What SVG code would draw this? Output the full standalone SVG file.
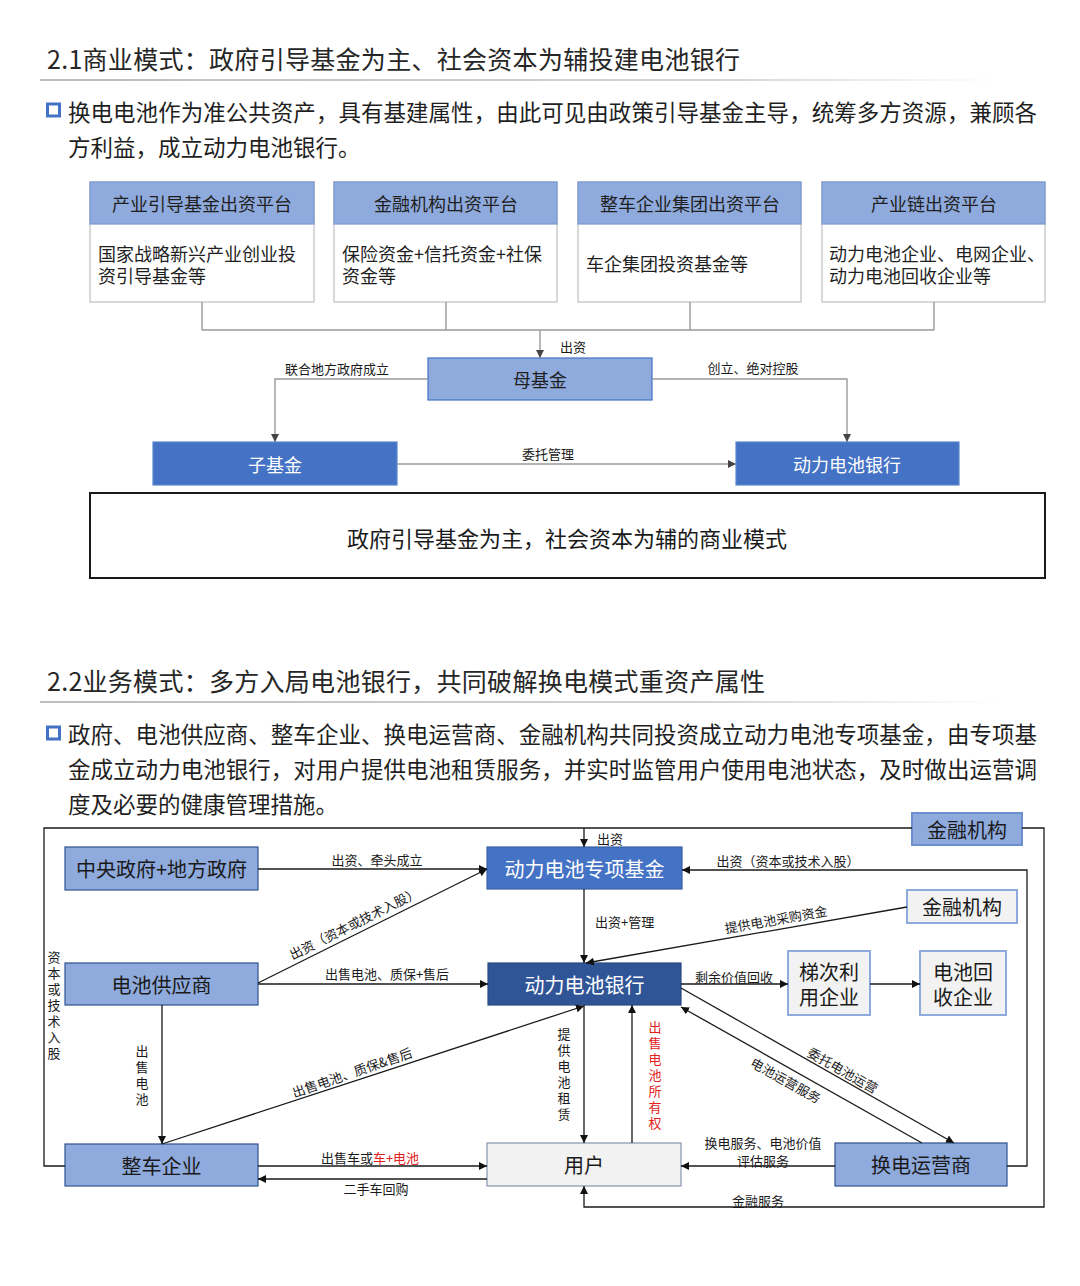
<svg xmlns="http://www.w3.org/2000/svg" width="1080" height="1286" viewBox="0 0 1080 1286">
<defs>
<linearGradient id="hl" x1="0" x2="1" y1="0" y2="0">
<stop offset="0" stop-color="#bdbdbd"/><stop offset="0.7" stop-color="#d4d4d4"/><stop offset="1" stop-color="#ffffff"/>
</linearGradient>
<marker id="ah" viewBox="0 0 10 10" refX="10" refY="5" markerWidth="8" markerHeight="8" markerUnits="userSpaceOnUse" orient="auto"><path d="M0,0 L10,5 L0,10 z" fill="#111"/></marker>
<marker id="ahg" viewBox="0 0 10 10" refX="10" refY="5" markerWidth="8" markerHeight="8" markerUnits="userSpaceOnUse" orient="auto"><path d="M0,0 L10,5 L0,10 z" fill="#444"/></marker>
</defs>
<style>
text{font-family:"Noto Sans CJK SC","Noto Sans",sans-serif;}
.title{font-size:25px;fill:#262626;dominant-baseline:central}
.body{font-size:22.5px;fill:#1f1f1f;dominant-baseline:central}
.bul{fill:#fff;stroke:#4472C4;stroke-width:3}
.c{text-anchor:middle;dominant-baseline:central}
.hd{font-size:18px;fill:#1f1f1f}
.bt{font-size:18px;fill:#1f1f1f;dominant-baseline:central}
.lb{font-size:13px;fill:#1a1a1a}
.v{font-size:13px;fill:#1a1a1a;writing-mode:vertical-rl;letter-spacing:3px}
.nt{font-size:20px;fill:#1a1a1a}
.mid{fill:#8FAADC;stroke:#2F528F;stroke-width:1.2}
.dark{fill:#4472C4;stroke:#3A62A8;stroke-width:1.2}
.light{fill:#F2F2F2;stroke:#8FAADC;stroke-width:2}
.cg{fill:none;stroke:#9a9a9a;stroke-width:1.4}
.cb{fill:none;stroke:#1a1a1a;stroke-width:1.3}
</style>
<rect width="1080" height="1286" fill="#ffffff"/>

<!-- Section 1 header -->
<text class="title" x="47" y="58" textLength="693">2.1商业模式：政府引导基金为主、社会资本为辅投建电池银行</text>
<rect x="40" y="79" width="960" height="2" fill="url(#hl)"/>
<rect class="bul" x="47.5" y="104" width="12" height="12"/>
<text class="body" x="68" y="111" textLength="969">换电电池作为准公共资产，具有基建属性，由此可见由政策引导基金主导，统筹多方资源，兼顾各</text>
<text class="body" x="68" y="146">方利益，成立动力电池银行。</text>

<!-- Top boxes -->
<g id="box1">
<rect x="90" y="182" width="224" height="120" fill="#fff" stroke="#BFBFBF" stroke-width="1.2"/>
<rect x="90" y="182" width="224" height="42" fill="#8FAADC" stroke="#7B9AD3" stroke-width="1.2"/>
<text class="hd c" x="202" y="203">产业引导基金出资平台</text>
<text class="bt"><tspan x="98" y="253">国家战略新兴产业创业投</tspan><tspan x="98" y="275">资引导基金等</tspan></text>
</g>
<g id="box2">
<rect x="334" y="182" width="223" height="120" fill="#fff" stroke="#BFBFBF" stroke-width="1.2"/>
<rect x="334" y="182" width="223" height="42" fill="#8FAADC" stroke="#7B9AD3" stroke-width="1.2"/>
<text class="hd c" x="446" y="203">金融机构出资平台</text>
<text class="bt"><tspan x="342" y="253">保险资金+信托资金+社保</tspan><tspan x="342" y="275">资金等</tspan></text>
</g>
<g id="box3">
<rect x="578" y="182" width="223" height="120" fill="#fff" stroke="#BFBFBF" stroke-width="1.2"/>
<rect x="578" y="182" width="223" height="42" fill="#8FAADC" stroke="#7B9AD3" stroke-width="1.2"/>
<text class="hd c" x="690" y="203">整车企业集团出资平台</text>
<text class="bt" x="586" y="263">车企集团投资基金等</text>
</g>
<g id="box4">
<rect x="822" y="182" width="223" height="120" fill="#fff" stroke="#BFBFBF" stroke-width="1.2"/>
<rect x="822" y="182" width="223" height="42" fill="#8FAADC" stroke="#7B9AD3" stroke-width="1.2"/>
<text class="hd c" x="934" y="203">产业链出资平台</text>
<text class="bt"><tspan x="829" y="253">动力电池企业、电网企业、</tspan><tspan x="829" y="275">动力电池回收企业等</tspan></text>
</g>
<g id="mujijin">
<rect x="428" y="358" width="224" height="42" fill="#8FAADC" stroke="#4472C4" stroke-width="1.2"/>
<text class="hd c" x="540" y="379">母基金</text>
</g>
<g id="zijijin">
<rect x="153" y="442" width="244" height="43" fill="#4472C4" stroke="#5B86CF" stroke-width="1.2"/>
<text class="hd c" x="275" y="463.5" style="fill:#fff">子基金</text>
</g>
<g id="bank1">
<rect x="736" y="442" width="223" height="43" fill="#4472C4" stroke="#5B86CF" stroke-width="1.2"/>
<text class="hd c" x="847" y="463.5" style="fill:#fff">动力电池银行</text>
</g>
<g id="summary">
<rect x="90" y="493" width="955" height="85" fill="none" stroke="#1a1a1a" stroke-width="2"/>
<text class="c" x="567" y="537" style="font-size:22px;fill:#1a1a1a">政府引导基金为主，社会资本为辅的商业模式</text>
</g>
<g id="connectors-top">
<path class="cg" d="M202,302 V330 M446,302 V330 M690,302 V330 M934,302 V330 M202,330 H934"/>
<path class="cg" d="M540,330 V358" marker-end="url(#ahg)"/>
<path class="cg" d="M428,379 H275 V442" marker-end="url(#ahg)"/>
<path class="cg" d="M652,379 H847 V442" marker-end="url(#ahg)"/>
<path class="cg" d="M397,464 H736" marker-end="url(#ahg)"/>
<text class="lb" x="560" y="346" dominant-baseline="central">出资</text>
<text class="lb c" x="337" y="368">联合地方政府成立</text>
<text class="lb c" x="753" y="367">创立、绝对控股</text>
<text class="lb c" x="548" y="453">委托管理</text>
</g>

<!-- Section 2 header -->
<text class="title" x="47" y="680" textLength="718">2.2业务模式：多方入局电池银行，共同破解换电模式重资产属性</text>
<rect x="40" y="701" width="960" height="2" fill="url(#hl)"/>
<rect class="bul" x="47.5" y="727" width="12" height="12"/>
<text class="body" x="68" y="733" textLength="969">政府、电池供应商、整车企业、换电运营商、金融机构共同投资成立动力电池专项基金，由专项基</text>
<text class="body" x="68" y="768" textLength="969">金成立动力电池银行，对用户提供电池租赁服务，并实时监管用户使用电池状态，及时做出运营调</text>
<text class="body" x="68" y="803">度及必要的健康管理措施。</text>

<!-- Bottom diagram nodes -->
<g id="n-gov">
<rect class="mid" x="65" y="847" width="193" height="43"/>
<text class="nt c" x="161.5" y="868.5">中央政府+地方政府</text>
</g>
<g id="n-supplier">
<rect class="mid" x="65" y="963" width="193" height="42"/>
<text class="nt c" x="161.5" y="984">电池供应商</text>
</g>
<g id="n-oem">
<rect class="mid" x="65" y="1144" width="193" height="42"/>
<text class="nt c" x="161.5" y="1165">整车企业</text>
</g>
<g id="n-fund">
<rect class="dark" x="487" y="847" width="195" height="42"/>
<text class="nt c" x="584.5" y="868" style="fill:#fff">动力电池专项基金</text>
</g>
<g id="n-bank">
<rect x="488" y="963" width="193" height="42" fill="#2F5597" stroke="#284A85" stroke-width="1.2"/>
<text class="nt c" x="584.5" y="984" style="fill:#fff">动力电池银行</text>
</g>
<g id="n-fin-top">
<rect x="912" y="813" width="110" height="32" fill="#8FAADC" stroke="#6E8FCF" stroke-width="2"/>
<text class="nt c" x="967" y="829">金融机构</text>
</g>
<g id="n-fin">
<rect class="light" x="907" y="890" width="110" height="33"/>
<text class="nt c" x="962" y="906.5">金融机构</text>
</g>
<g id="n-echelon">
<rect class="light" x="788" y="951" width="82" height="64"/>
<text class="nt c"><tspan x="829" y="971">梯次利</tspan><tspan x="829" y="996">用企业</tspan></text>
</g>
<g id="n-recycle">
<rect class="light" x="920" y="951" width="86" height="64"/>
<text class="nt c"><tspan x="963" y="971">电池回</tspan><tspan x="963" y="996">收企业</tspan></text>
</g>
<g id="n-user">
<rect x="487" y="1143" width="194" height="43" fill="#F2F2F2" stroke="#8497B0" stroke-width="1.2"/>
<text class="nt c" x="584" y="1164.5">用户</text>
</g>
<g id="n-swap">
<rect class="mid" x="835" y="1143" width="172" height="43"/>
<text class="nt c" x="921" y="1164.5">换电运营商</text>
</g>

<!-- Bottom diagram connectors -->
<g id="connectors">
<path class="cb" d="M65,1166 H44 V828 H912"/>
<path class="cb" d="M584,828 V847" marker-end="url(#ah)"/>
<path class="cb" d="M1022,828 H1044 V1207 H584 V1186" marker-end="url(#ah)"/>
<path class="cb" d="M1007,1166 H1027 V870 H682" marker-end="url(#ah)"/>
<path class="cb" d="M258,869 H487" marker-end="url(#ah)"/>
<path class="cb" d="M258,983 L487,869" marker-end="url(#ah)"/>
<path class="cb" d="M258,984 H488" marker-end="url(#ah)"/>
<path class="cb" d="M162,1005 V1144" marker-end="url(#ah)"/>
<path class="cb" d="M162,1144 L584,1006" marker-end="url(#ah)"/>
<path class="cb" d="M258,1166 H487" marker-end="url(#ah)"/>
<path class="cb" d="M487,1179 H258" marker-end="url(#ah)"/>
<path class="cb" d="M584,889 V963" marker-end="url(#ah)"/>
<path class="cb" d="M907,907 L586,963" marker-end="url(#ah)"/>
<path class="cb" d="M681,984 H788" marker-end="url(#ah)"/>
<path class="cb" d="M870,984 H920" marker-end="url(#ah)"/>
<path class="cb" d="M584,1005 V1143" marker-end="url(#ah)"/>
<path class="cb" d="M632,1143 V1005" marker-end="url(#ah)"/>
<path class="cb" d="M681,988 L954,1143" marker-end="url(#ah)"/>
<path class="cb" d="M922,1143 L681,1007" marker-end="url(#ah)"/>
<path class="cb" d="M835,1166 H681" marker-end="url(#ah)"/>

<text class="lb" x="597" y="838" dominant-baseline="central">出资</text>
<text class="lb c" x="377" y="859">出资、牵头成立</text>
<text class="lb c" transform="translate(354,923) rotate(-26.7)" x="0" y="0">出资（资本或技术入股）</text>
<text class="lb c" x="387" y="973">出售电池、质保+售后</text>
<text class="lb c" transform="translate(352,1072) rotate(-19)" x="0" y="0">出售电池、质保&amp;售后</text>
<text class="lb c" x="370" y="1157">出售车或<tspan fill="#E0201A">车+电池</tspan></text>
<text class="lb c" x="376" y="1188">二手车回购</text>
<text class="lb" x="595" y="921" dominant-baseline="central">出资+管理</text>
<text class="lb c" transform="translate(776,919) rotate(-10)" x="0" y="0">提供电池采购资金</text>
<text class="lb c" x="734" y="976">剩余价值回收</text>
<text class="lb c" x="788" y="860">出资（资本或技术入股）</text>
<text class="lb c" transform="translate(843,1070) rotate(29.6)" x="0" y="0">委托电池运营</text>
<text class="lb c" transform="translate(786,1080) rotate(29.3)" x="0" y="0">电池运营服务</text>
<text class="lb c"><tspan x="763" y="1142">换电服务、电池价值</tspan><tspan x="763" y="1160">评估服务</tspan></text>
<text class="lb c" x="758" y="1200">金融服务</text>
<text class="v" x="54" y="951">资本或技术入股</text>
<text class="v" x="142" y="1045">出售电池</text>
<text class="v" x="564" y="1028">提供电池租赁</text>
<text class="v" x="655" y="1021" style="fill:#E0201A">出售电池所有权</text>
</g>
</svg>
